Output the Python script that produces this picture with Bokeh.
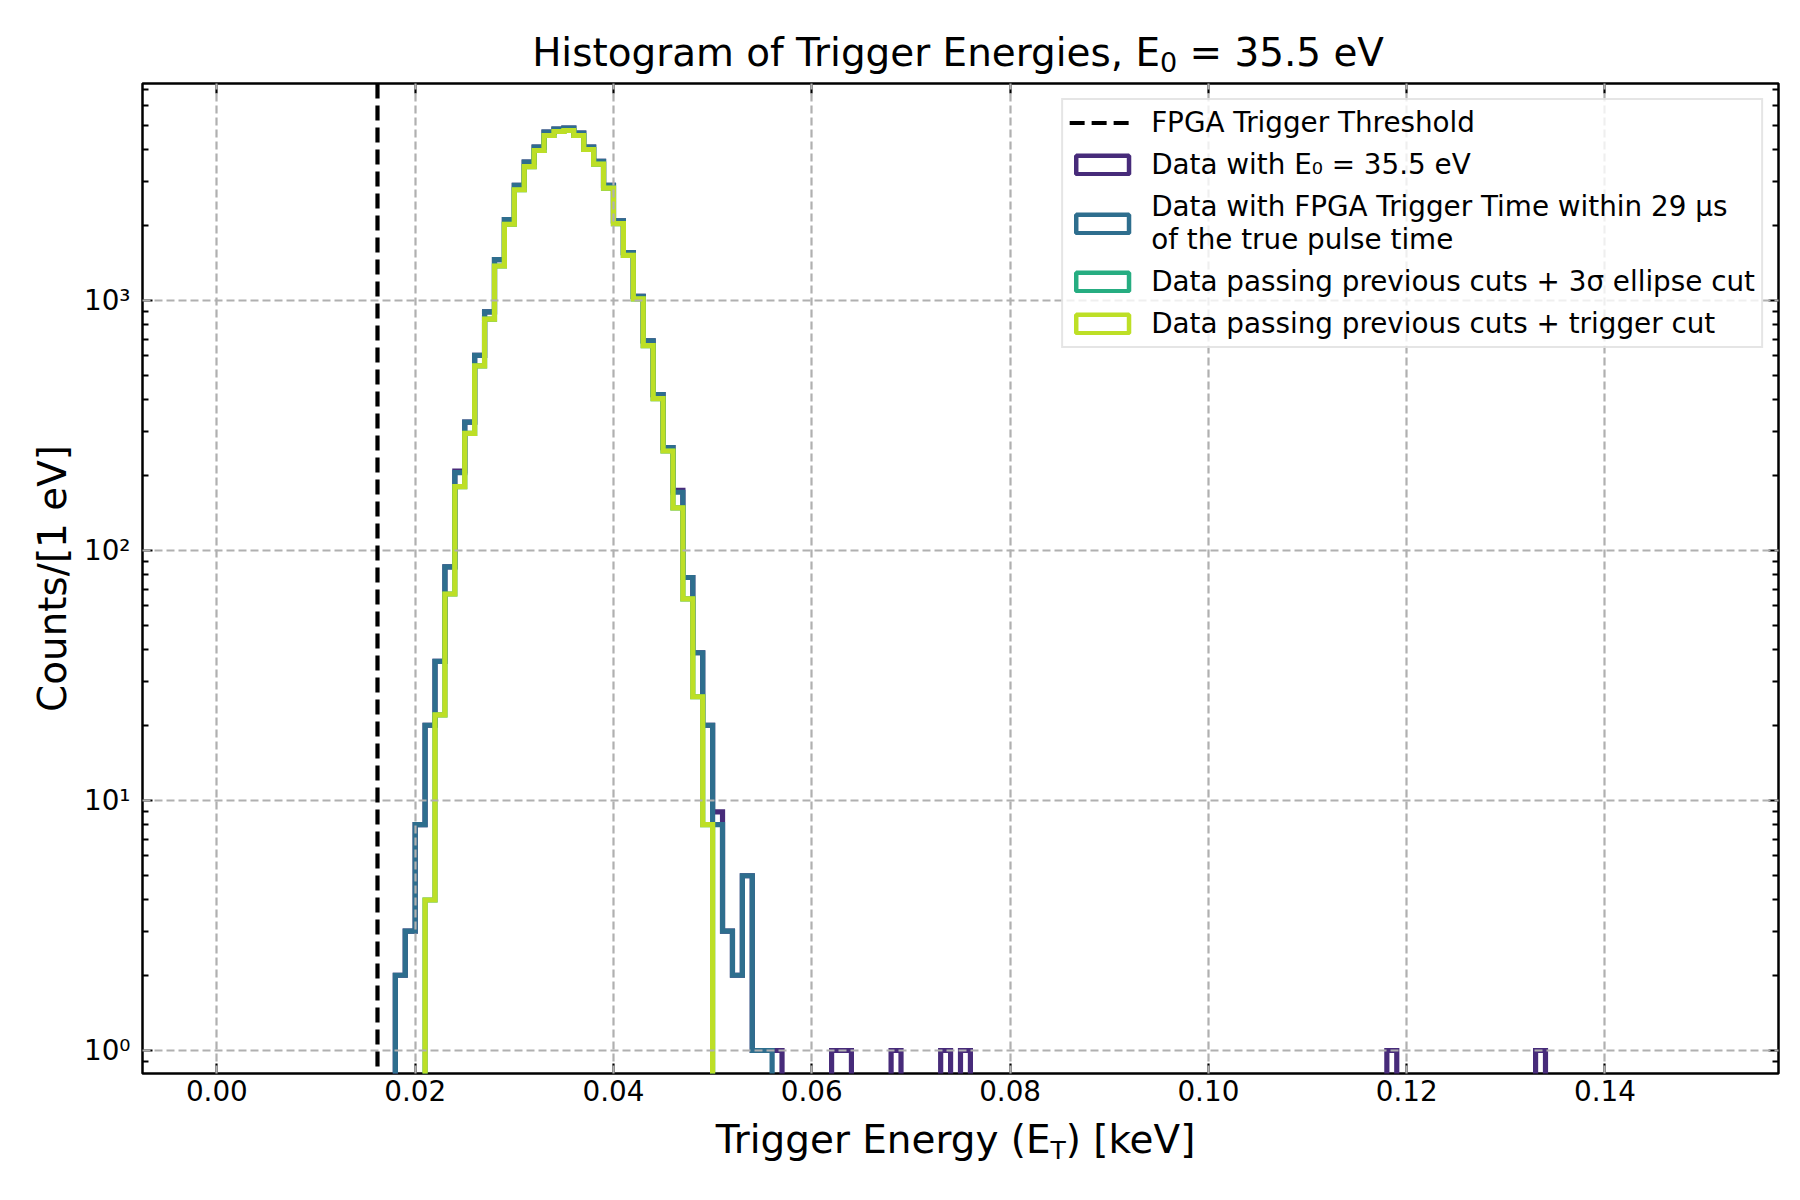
import numpy as np
from bokeh.plotting import figure
from bokeh.layouts import column
from bokeh.models import (FixedTicker, LinearAxis, LogAxis, Span, Legend, LegendItem,
                          Label, CustomJSTickFormatter, NumeralTickFormatter)
from bokeh.embed import file_html
from bokeh.resources import INLINE

# ---------------- data ----------------
bin_width_kev = 0.001          # 1 eV bins
n_bins = 150                   # 0 ... 0.150 keV
threshold_kev = 0.0162         # FPGA trigger threshold

# Data with E0 = 35.5 eV : counts of bins 18 ... 56, plus isolated single counts
e0_first_bin = 18
e0_counts = [2, 3, 8, 20, 36, 86, 208, 326, 603, 900, 1457, 2109, 2891, 3575, 4108,
             4720, 4853, 4898, 4677, 4108, 3607, 2891, 2084, 1555, 1038, 690, 420,
             258, 174, 78, 39, 20, 9, 3, 2, 5, 1, 1, 1]
e0_single_bins = [62, 63, 68, 73, 75, 118, 133]

# Data with FPGA trigger time within 29 us : bins 18 ... 55
fpga_first_bin = 18
fpga_counts = [2, 3, 8, 20, 36, 86, 205, 326, 603, 900, 1457, 2109, 2891, 3575, 4108,
               4720, 4853, 4898, 4677, 4108, 3607, 2891, 2084, 1555, 1038, 690, 420,
               258, 171, 78, 39, 20, 8, 3, 2, 5, 1, 1]

# Data passing previous cuts + 3 sigma ellipse cut : bins 21 ... 49
ellipse_first_bin = 21
ellipse_counts = [4, 22, 67, 180, 294, 548, 843, 1374, 2019, 2773, 3432, 3981, 4571,
                  4744, 4786, 4571, 4018, 3515, 2813, 2032, 1516, 1016, 660, 405, 250,
                  148, 64, 26, 8]

# Data passing previous cuts + trigger cut : bins 21 ... 49
trig_first_bin = 21
trig_counts = [4, 22, 67, 180, 294, 548, 843, 1374, 2019, 2773, 3432, 3981, 4571,
               4744, 4786, 4571, 4018, 3515, 2813, 2032, 1516, 1016, 660, 405, 250,
               148, 64, 26, 8]

x_tick_values = [0.00, 0.02, 0.04, 0.06, 0.08, 0.10, 0.12, 0.14]
y_tick_values = [1, 10, 100, 1000]
y_tick_labels = ["10\u2070", "10\u00b9", "10\u00b2", "10\u00b3"]
y_minor_values = [0.9] + [m * d for d in (1, 10, 100) for m in range(2, 10)] + [2000, 3000, 4000, 5000, 6000, 7000]

title_parts = ["Histogram of Trigger Energies, E", "0", "= 35.5 eV"]
y_label = "Counts/[1 eV]"
x_label_parts = ["Trigger Energy (E", "T", ") [keV]"]
legend_labels = ["FPGA Trigger Threshold",
                 "Data with E\u2080 = 35.5 eV",
                 "Data with FPGA Trigger Time within 29 \u03bcs\nof the true pulse time",
                 "Data passing previous cuts + 3\u03c3 ellipse cut",
                 "Data passing previous cuts + trigger cut"]
colors = ["#472b7a", "#2e6e8e", "#26ad81", "#bddf26"]

# ---------------- helpers ----------------
FONT = "DejaVu Sans"
FLOOR = 1e-3   # stands in for zero counts on the log axis (clipped off the frame)
BASELINE_FIX = 0.37   # measured: the drawn baseline sits this many em below the anchor
edges = np.arange(n_bins + 1) * bin_width_kev


def full_counts(first, counts, singles=()):
    c = np.zeros(n_bins)
    c[first:first + len(counts)] = counts
    for b in singles:
        c[b] += 1
    return c


def step_path(c):
    xs = np.repeat(edges, 2)
    ys = np.concatenate([[0.0], np.repeat(c, 2), [0.0]])
    ys = np.where(ys > 0, ys, FLOOR)
    return xs, ys


series = [full_counts(e0_first_bin, e0_counts, e0_single_bins),
          full_counts(fpga_first_bin, fpga_counts),
          full_counts(ellipse_first_bin, ellipse_counts),
          full_counts(trig_first_bin, trig_counts)]

# ---------------- layout constants (canvas pixels) ----------------
x_lo, x_hi = -0.0075, 0.1575
y_lo, y_hi = 0.809, 7380
W, H = 1800, 1200
FL, FT, FW, FH = 142, 83, 1636, 990   # frame placement on the page
FR = W - FL - FW
TOP_H = 80                            # strip above, holding the title
BOTTOM = 45                           # space for the x tick labels
LABEL_H = H - (FT + FH + BOTTOM)      # strip below, holding the x axis title


def text_strip(height):
    s = figure(frame_width=FW, frame_height=height, x_range=(FL, FL + FW), y_range=(0, height),
               x_axis_location=None, y_axis_location=None, toolbar_location=None,
               title_location=None, output_backend="svg",
               min_border_left=FL, min_border_right=FR, min_border_top=0, min_border_bottom=0)
    s.outline_line_color = None
    s.background_fill_color = "white"
    s.border_fill_color = "white"
    s.grid.visible = False
    return s


def put_text(strip, x, base_y, text, size, align):
    strip.add_layout(Label(x=x, y=base_y + BASELINE_FIX * size, text=text, text_align=align,
                           text_baseline="alphabetic", text_font=FONT,
                           text_font_size=f"{size}px", text_color="black"))


def sub_text(strip, parts, x_join, base_y, main_size, sub_size, sub_drop, gap_after_sub):
    """main text right-aligned to x_join, subscript starting at x_join, rest after it"""
    put_text(strip, x_join, base_y, parts[0], main_size, "right")
    put_text(strip, x_join, base_y - sub_drop, parts[1], sub_size, "left")
    put_text(strip, x_join + gap_after_sub, base_y, parts[2], main_size, "left")


# ---------------- main figure ----------------
p = figure(frame_width=FW, frame_height=FH, y_axis_type="log",
           x_range=(x_lo, x_hi), y_range=(y_lo, y_hi),
           output_backend="svg", toolbar_location=None, title_location=None,
           min_border_left=FL, min_border_right=FR,
           min_border_top=FT - TOP_H, min_border_bottom=BOTTOM)
p.background_fill_color = "white"
p.border_fill_color = "white"
p.outline_line_color = "black"
p.outline_line_width = 2.5

x_ticker = FixedTicker(ticks=x_tick_values, minor_ticks=[])
y_ticker = FixedTicker(ticks=y_tick_values, minor_ticks=y_minor_values)


def style_axis(ax, show_labels):
    ax.axis_line_color = None
    ax.major_tick_in = 10
    ax.major_tick_out = 0
    ax.minor_tick_in = 6
    ax.minor_tick_out = 0
    ax.major_tick_line_width = 2.2
    ax.minor_tick_line_width = 2.0
    ax.major_tick_line_color = "black"
    ax.minor_tick_line_color = "black"
    ax.major_label_text_font = FONT
    ax.major_label_text_font_size = "27.8px"
    ax.major_label_text_color = "black"
    if not show_labels:
        ax.formatter = CustomJSTickFormatter(code="return ''")
        ax.major_label_standoff = 0


xa = p.xaxis[0]
xa.ticker = x_ticker
xa.formatter = NumeralTickFormatter(format="0.00")
style_axis(xa, True)
xa.major_label_standoff = 6

ya = p.yaxis[0]
ya.ticker = y_ticker
ya.major_label_overrides = {v: s for v, s in zip(y_tick_values, y_tick_labels)}
style_axis(ya, True)
ya.major_label_standoff = 12
ya.axis_label = y_label
ya.axis_label_text_font = FONT
ya.axis_label_text_font_size = "38.9px"
ya.axis_label_text_font_style = "normal"
ya.axis_label_text_color = "black"
ya.axis_label_standoff = 6

top_axis = LinearAxis(ticker=x_ticker)
style_axis(top_axis, False)
p.add_layout(top_axis, "above")
right_axis = LogAxis(ticker=y_ticker)
style_axis(right_axis, False)
p.add_layout(right_axis, "right")

for g in (p.xgrid[0], p.ygrid[0]):
    g.grid_line_color = "#b0b0b0"
    g.grid_line_width = 2.2
    g.grid_line_dash = "8 4"
    g.level = "guide"
p.xgrid[0].ticker = x_ticker
p.ygrid[0].ticker = y_ticker

# threshold line (vertical across the axes) + an off-frame proxy for its legend entry
p.add_layout(Span(location=threshold_kev, dimension="height", line_color="black",
                  line_width=4.2, line_dash="15 7"))
thr_proxy = p.line(x=[threshold_kev, threshold_kev], y=[FLOOR, FLOOR], line_color="black",
                   line_width=4.2, line_dash="15 7")

items = [LegendItem(label=legend_labels[0], renderers=[thr_proxy])]
for c, col, lab in zip(series, colors, legend_labels[1:]):
    xs, ys = step_path(c)
    p.line(xs, ys, line_color=col, line_width=5.2, line_join="miter")
    proxy = p.quad(left=[edges[0]], right=[edges[1]], top=[FLOOR], bottom=[FLOOR],
                   fill_color=None, line_color=col, line_width=4.5)
    items.append(LegendItem(label=lab, renderers=[proxy]))

legend = Legend(items=items, location="top_right")
legend.label_text_font = FONT
legend.label_text_font_size = "27.8px"
legend.label_text_color = "black"
legend.glyph_width = 66
legend.glyph_height = 23
legend.label_standoff = 16
legend.padding = 6
legend.spacing = 9
legend.margin = 15
legend.border_line_color = "#cccccc"
legend.border_line_width = 2
legend.background_fill_alpha = 0.8
p.add_layout(legend)

# ---------------- title strip (E with subscript 0) ----------------
top_strip = text_strip(TOP_H)
title_join = 1159.5                       # end of "... E", canvas x
title_baseline = 66                       # canvas y from the top
sub0_size = 27
sub_text(top_strip, title_parts, title_join, TOP_H - title_baseline, 38.9, sub0_size, 5,
         0.636 * sub0_size + 0.318 * 38.9)

# ---------------- x axis title strip (E with subscript T) ----------------
bottom_strip = text_strip(LABEL_H)
xlab_join = 1050                          # end of "... (E", canvas x
xlab_baseline = 1153                      # canvas y from the top
subT_size = 25
sub_text(bottom_strip, x_label_parts, xlab_join, LABEL_H - (xlab_baseline - (FT + FH + BOTTOM)),
         38.9, subT_size, 6, 0.611 * subT_size)

layout = column(top_strip, p, bottom_strip, spacing=0)
open("out.html", "w").write(file_html(layout, INLINE))
